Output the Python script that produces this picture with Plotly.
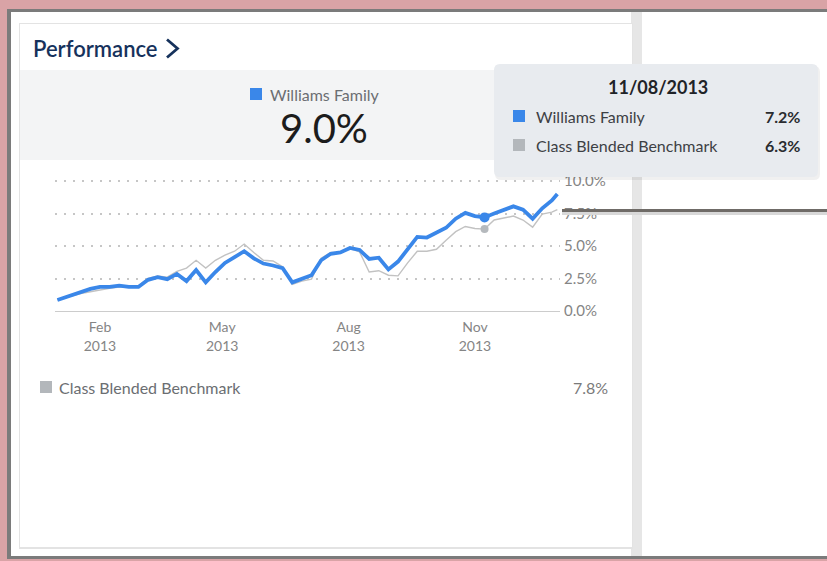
import plotly.graph_objects as go
from datetime import datetime

W, H = 827, 561

# ---------------- data ----------------
dates = [
    "2013-01-01", "2013-01-04", "2013-01-11", "2013-01-18", "2013-01-25",
    "2013-02-01", "2013-02-08", "2013-02-15", "2013-02-22",
    "2013-03-01", "2013-03-08", "2013-03-15", "2013-03-22", "2013-03-29",
    "2013-04-05", "2013-04-12", "2013-04-19", "2013-04-26",
    "2013-05-03", "2013-05-10", "2013-05-17", "2013-05-24", "2013-05-31",
    "2013-06-07", "2013-06-14", "2013-06-21", "2013-06-28",
    "2013-07-05", "2013-07-12", "2013-07-19", "2013-07-26",
    "2013-08-02", "2013-08-09", "2013-08-16", "2013-08-23", "2013-08-30",
    "2013-09-06", "2013-09-13", "2013-09-20", "2013-09-27",
    "2013-10-04", "2013-10-11", "2013-10-18", "2013-10-25",
    "2013-11-01", "2013-11-08", "2013-11-15", "2013-11-22", "2013-11-29",
    "2013-12-06", "2013-12-13", "2013-12-20", "2013-12-27", "2013-12-31",
]
williams = [
    0.85, 0.95, 1.2, 1.45, 1.7,
    1.85, 1.85, 1.95, 1.85,
    1.85, 2.4, 2.6, 2.45, 2.85,
    2.3, 3.15, 2.2, 3.0,
    3.7, 4.15, 4.6, 4.05, 3.65,
    3.5, 3.3, 2.2, 2.45,
    2.75, 3.9, 4.4, 4.5,
    4.85, 4.7, 4.0, 4.1, 3.2,
    3.8, 4.8, 5.7, 5.65,
    6.0, 6.4, 7.1, 7.55,
    7.3, 7.2, 7.5, 7.75, 8.05,
    7.8, 7.1, 7.9, 8.5, 9.0,
]
benchmark = [
    0.85, 0.95, 1.15, 1.35, 1.5,
    1.65, 1.75, 1.85, 1.85,
    1.95, 2.5, 2.7, 2.6, 3.05,
    3.3, 3.9, 3.3, 3.9,
    4.3, 4.6, 5.15, 4.5, 3.9,
    3.85, 3.4, 2.05, 2.3,
    2.45, 4.05, 4.5, 4.5,
    4.8, 4.55, 3.0, 3.1, 2.75,
    2.7, 3.7, 4.6, 4.6,
    4.75, 5.45, 6.1, 6.5,
    6.35, 6.3, 7.0, 7.15, 7.3,
    7.0, 6.45, 7.45, 7.6, 7.8,
]
series_names = ["Williams Family", "Class Blended Benchmark"]
x_tick_vals = ["2013-02-01", "2013-05-01", "2013-08-01", "2013-11-01"]
x_tick_text = ["Feb<br>2013", "May<br>2013", "Aug<br>2013", "Nov<br>2013"]
y_tick_vals = [0, 2.5, 5, 7.5, 10]
y_tick_text = ["0.0%", "2.5%", "5.0%", "7.5%", "10.0%"]
hover_date = "2013-11-08"
card_title = "Performance"

BLUE = "#3a87e9"
GRAY = "#c2c2c2"
FONT = "Lato, 'Open Sans', sans-serif"


def px(x):
    return x / W


def py(y):
    return 1 - y / H


def rect(x0, y0, x1, y1, color, layer="below"):
    return dict(type="rect", xref="paper", yref="paper",
                x0=px(x0), x1=px(x1), y0=py(y1), y1=py(y0),
                fillcolor=color, line=dict(width=0), layer=layer)


def rrect(x0, y0, x1, y1, r, color, layer="above"):
    X0, X1, Y0, Y1 = px(x0), px(x1), py(y0), py(y1)
    rx, ry = r / W, r / H
    path = (f"M {X0+rx},{Y0} L {X1-rx},{Y0} Q {X1},{Y0} {X1},{Y0-ry} "
            f"L {X1},{Y1+ry} Q {X1},{Y1} {X1-rx},{Y1} L {X0+rx},{Y1} "
            f"Q {X0},{Y1} {X0},{Y1+ry} L {X0},{Y0-ry} Q {X0},{Y0} {X0+rx},{Y0} Z")
    return dict(type="path", xref="paper", yref="paper", path=path,
                fillcolor=color, line=dict(width=0), layer=layer)


hi = dates.index(hover_date)

fig = go.Figure()
fig.add_trace(go.Scatter(x=dates, y=benchmark, mode="lines", name=series_names[1],
                         line=dict(color=GRAY, width=1.4), hoverinfo="skip"))
fig.add_trace(go.Scatter(x=dates, y=williams, mode="lines", name=series_names[0],
                         line=dict(color=BLUE, width=3.8), hoverinfo="skip"))
fig.add_trace(go.Scatter(x=[dates[hi]], y=[benchmark[hi]], mode="markers",
                         marker=dict(color="#b5b9bd", size=8), hoverinfo="skip",
                         cliponaxis=False))
fig.add_trace(go.Scatter(x=[dates[hi]], y=[williams[hi]], mode="markers",
                         marker=dict(color=BLUE, size=10), hoverinfo="skip",
                         cliponaxis=False))

shapes = [
    rect(0, 0, W, H, "#d9a3a6"),
    rect(7, 9, W, 559, "#7b7b7b"),
    rect(11, 12, W, 556, "#ffffff"),
    rect(631, 12, 642, 556, "#e6e6e6"),
    rect(19, 23, 633, 549, "#e3e3e3"),
    rect(20, 24, 632, 547, "#ffffff"),
    rect(20, 70, 632, 160, "#f3f4f5"),
    rect(250, 88, 262, 100, BLUE),
    rect(40, 381, 52, 393, "#b3b7bb"),
    dict(type="path", xref="paper", yref="paper",
         path=f"M {px(167)},{py(39.5)} L {px(177.5)},{py(48.5)} L {px(167)},{py(57.5)}",
         line=dict(color="#16325c", width=2.8), layer="above"),
    # callout line
    rect(562, 212, W, 215, "#d8d8d8", layer="above"),
    rect(562, 209, W, 212, "#6f6b67", layer="above"),
    # tooltip
    rrect(495, 66, 820, 180, 6, "rgba(0,0,0,0.06)"),
    rrect(494, 64, 818, 177, 6, "#e8ebef"),
    rect(513, 110, 525, 122, BLUE, layer="above"),
    rect(513, 139, 525, 151, "#b3b7bb", layer="above"),
]

d = datetime.strptime(hover_date, "%Y-%m-%d")
tip_date = d.strftime("%m/%d/%Y")


def ann(x, y, text, size, color, anchor="left", weight="normal"):
    return dict(xref="paper", yref="paper", x=px(x), y=py(y), text=text,
                showarrow=False, xanchor=anchor, yanchor="middle",
                font=dict(family=FONT, size=size, color=color, weight=weight))


annotations = [
    ann(31, 48, card_title, 22, "#16325c", weight=600),
    ann(268, 94, series_names[0], 16, "#6b6e72"),
    ann(324, 128, f"{williams[-1]:.1f}%", 40, "#1c1c1c", anchor="center"),
    ann(658, 87, tip_date, 18, "#1f2328", anchor="center", weight="bold"),
    ann(534, 116, series_names[0], 16, "#3d4044"),
    ann(802, 116, f"{williams[hi]:.1f}%", 16, "#2a2c2f", anchor="right", weight="bold"),
    ann(534, 145, series_names[1], 16, "#3d4044"),
    ann(802, 145, f"{benchmark[hi]:.1f}%", 16, "#2a2c2f", anchor="right", weight="bold"),
    ann(57, 387, series_names[1], 16, "#6b6e72"),
    ann(610, 387, f"{benchmark[-1]:.1f}%", 16, "#7a7a7a", anchor="right"),
]

ypad = 0.1
fig.update_layout(
    width=W, height=H,
    margin=dict(l=0, r=0, t=0, b=0, pad=0, autoexpand=False),
    paper_bgcolor="#ffffff",
    plot_bgcolor="rgba(0,0,0,0)",
    showlegend=False,
    shapes=shapes,
    annotations=annotations,
    font=dict(family=FONT),
    xaxis=dict(
        type="date",
        domain=[px(54.65), px(560.1)],
        range=["2012-12-30", "2014-01-02"],
        tickmode="array", tickvals=x_tick_vals, ticktext=x_tick_text,
        tickfont=dict(size=14, color="#858585", family=FONT),
        showgrid=False, zeroline=False, showline=False,
        ticks="", ticklabelstandoff=5, automargin=False,
        fixedrange=True,
    ),
    yaxis=dict(
        domain=[py(311 + 13 * ypad), py(181 - 13 * ypad)],
        range=[-ypad, 10 + ypad],
        side="right",
        tickmode="array", tickvals=y_tick_vals, ticktext=y_tick_text,
        tickfont=dict(size=15, color="#858585", family=FONT),
        showgrid=True, gridcolor="#c6c6c6", gridwidth=2, griddash="2px,7px",
        zeroline=True, zerolinecolor="#cccccc", zerolinewidth=1,
        showline=False, ticks="", ticklabelstandoff=3,
        automargin=False, fixedrange=True,
    ),
)

fig.write_html("out.html")
